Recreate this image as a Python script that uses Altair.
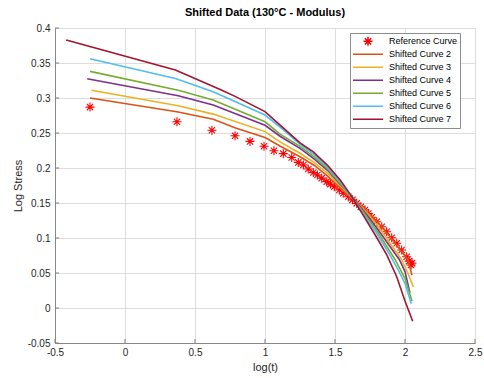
import altair as alt
import pandas as pd

# ---------------- data ----------------
names = ["Reference Curve", "Shifted Curve 2", "Shifted Curve 3", "Shifted Curve 4",
         "Shifted Curve 5", "Shifted Curve 6", "Shifted Curve 7"]
colors = ["#FF0000", "#D95319", "#EDB120", "#7E2F8E", "#77AC30", "#4DBEEE", "#A2142F"]

ref_x = [-0.25, 0.371, 0.621, 0.786, 0.893, 0.993, 1.064, 1.131, 1.191, 1.238, 1.274,
         1.309, 1.345, 1.374, 1.405, 1.441, 1.467, 1.495, 1.531, 1.559, 1.595, 1.625,
         1.655, 1.685, 1.714, 1.738, 1.762, 1.798, 1.834, 1.869, 1.905, 1.941, 1.976,
         2.012, 2.03, 2.043, 2.05]
ref_y = [0.287, 0.266, 0.254, 0.246, 0.238, 0.231, 0.2247, 0.2205, 0.215, 0.208, 0.2043,
         0.1985, 0.1935, 0.19, 0.1855, 0.1805, 0.177, 0.1733, 0.1686, 0.1639, 0.159, 0.1545,
         0.1495, 0.1445, 0.14, 0.135, 0.1296, 0.1233, 0.1161, 0.109, 0.1004, 0.0924, 0.0829,
         0.0733, 0.067, 0.0614, 0.064]

c2_x = [-0.25, 0.38, 0.63, 0.79, 1.0, 1.11, 1.25, 1.35, 1.45, 1.55, 1.62, 1.70, 1.80, 1.90, 2.02, 2.05]
c2_y = [0.300, 0.280, 0.2696, 0.257, 0.2435, 0.231, 0.216, 0.204, 0.188, 0.169, 0.157, 0.143, 0.124, 0.100, 0.069, 0.047]

c3_x = [-0.24, 0.38, 0.63, 1.0, 1.11, 1.25, 1.35, 1.45, 1.55, 1.62, 1.70, 1.80, 1.976, 2.02, 2.06]
c3_y = [0.311, 0.289, 0.277, 0.252, 0.237, 0.221, 0.208, 0.192, 0.172, 0.158, 0.142, 0.119, 0.069, 0.050, 0.030]

c4_x = [-0.27, 0.38, 0.63, 1.0, 1.11, 1.25, 1.35, 1.45, 1.55, 1.62, 1.70, 1.80, 1.96, 2.00, 2.035]
c4_y = [0.3276, 0.3033, 0.290, 0.261, 0.245, 0.228, 0.213, 0.196, 0.174, 0.159, 0.140, 0.114, 0.069, 0.052, 0.022]

c5_x = [-0.25, 0.38, 0.63, 1.0, 1.11, 1.25, 1.35, 1.45, 1.55, 1.62, 1.70, 1.80, 1.93, 2.00, 2.05]
c5_y = [0.338, 0.311, 0.297, 0.266, 0.248, 0.231, 0.216, 0.198, 0.175, 0.158, 0.138, 0.110, 0.069, 0.042, 0.010]

c6_x = [-0.25, 0.36, 0.63, 1.0, 1.11, 1.25, 1.35, 1.45, 1.55, 1.62, 1.70, 1.80, 1.90, 1.95, 2.00, 2.045]
c6_y = [0.356, 0.328, 0.309, 0.2757, 0.258, 0.234, 0.219, 0.200, 0.177, 0.158, 0.135, 0.106, 0.073, 0.055, 0.035, 0.006]

c7_x = [-0.42, 0.36, 0.68, 0.79, 1.0, 1.11, 1.25, 1.345, 1.45, 1.54, 1.61, 1.70, 1.80, 1.87, 1.94, 2.00, 2.055]
c7_y = [0.383, 0.340, 0.312, 0.302, 0.2805, 0.261, 0.236, 0.223, 0.203, 0.182, 0.162, 0.133, 0.100, 0.076, 0.045, 0.010, -0.019]

x_ticks = [-0.5, 0, 0.5, 1, 1.5, 2, 2.5]
y_ticks = [-0.05, 0, 0.05, 0.1, 0.15, 0.2, 0.25, 0.3, 0.35, 0.4]

# ---------------- tables ----------------
ref_df = pd.DataFrame({"x": ref_x, "y": ref_y, "series": names[0]})
curve_lists = [(c2_x, c2_y), (c3_x, c3_y), (c4_x, c4_y), (c5_x, c5_y), (c6_x, c6_y), (c7_x, c7_y)]
frames = []
for name, (xs, ys) in zip(names[1:], curve_lists):
    frames.append(pd.DataFrame({"x": xs, "y": ys, "series": name, "order": list(range(len(xs)))}))
curves_df = pd.concat(frames, ignore_index=True)
xt_df = pd.DataFrame({"v": x_ticks})
yt_df = pd.DataFrame({"v": y_ticks})

W, H = 420, 315
FONT = "Liberation Sans"

star = "M-0.3,0L0.3,0M0,-0.3L0,0.3M-0.21,-0.21L0.21,0.21M-0.21,0.21L0.21,-0.21"
dash = "M-1,0L1,0"
shapes = [star] + [dash] * 6

xscale = alt.Scale(domain=[-0.5, 2.5], nice=False, zero=False)
yscale = alt.Scale(domain=[-0.05, 0.4], nice=False, zero=False)
cscale = alt.Scale(domain=names, range=colors)

legend = alt.Legend(
    title=None, orient="none", legendX=295, legendY=5,
    labelFont=FONT, labelFontSize=9, labelColor="#000000",
    symbolSize=900, symbolStrokeWidth=1.5, symbolOpacity=1, clipHeight=12.7, rowPadding=0,
    labelOffset=5, padding=2, strokeColor="#8c8c8c", fillColor="#ffffff",
    cornerRadius=0,
)

axis_common = dict(labelExpr="'' + datum.value", ticks=False, labelOverlap=False,
                   labelFlush=False, labelBound=False, titleFontWeight="normal",
                   titleFont=FONT, titleFontSize=11, titleColor="#262626",
                   labelFont=FONT, labelFontSize=10, labelColor="#262626", tickCount=30)
xaxis = alt.Axis(values=x_ticks, title="log(t)", labelPadding=4, titlePadding=4, **axis_common)
yaxis = alt.Axis(values=y_ticks, title="Log Stress", labelPadding=5, titlePadding=4, **axis_common)

points = alt.Chart(ref_df).mark_point(filled=False, size=900, strokeWidth=1.1, opacity=1).encode(
    x=alt.X("x:Q", scale=xscale, axis=xaxis),
    y=alt.Y("y:Q", scale=yscale, axis=yaxis),
    color=alt.Color("series:N", scale=cscale, legend=legend),
    shape=alt.Shape("series:N", scale=alt.Scale(domain=names, range=shapes), legend=legend),
)

lines = alt.Chart(curves_df).mark_line(strokeWidth=1.6).encode(
    x=alt.X("x:Q", scale=xscale, axis=xaxis),
    y=alt.Y("y:Q", scale=yscale, axis=yaxis),
    color=alt.Color("series:N", scale=cscale, legend=legend),
    order="order:Q",
)

xticks = alt.Chart(xt_df).mark_rule(color="#808080", strokeWidth=1).encode(
    x=alt.X("v:Q", scale=xscale, axis=xaxis), y=alt.value(H), y2=alt.value(H - 4))
yticks = alt.Chart(yt_df).mark_rule(color="#808080", strokeWidth=1).encode(
    y=alt.Y("v:Q", scale=yscale, axis=yaxis), x=alt.value(0), x2=alt.value(4))

chart = alt.layer(points, lines, xticks, yticks).properties(
    width=W, height=H,
    title=alt.Title("Shifted Data (130°C - Modulus)", fontSize=11, fontWeight="bold",
                    font=FONT, color="#000000", offset=5),
    autosize=alt.AutoSizeParams(type="none"),
    padding={"left": 55, "top": 28, "right": 9, "bottom": 35},
).configure_view(
    stroke="#d9d9d9", strokeWidth=1
).configure_axis(
    gridColor="#e6e6e6", gridWidth=1, domainColor="#808080", domainWidth=1,
).configure(background="#ffffff")

chart.save("out.html", embed_options={"renderer": "svg", "actions": False})
